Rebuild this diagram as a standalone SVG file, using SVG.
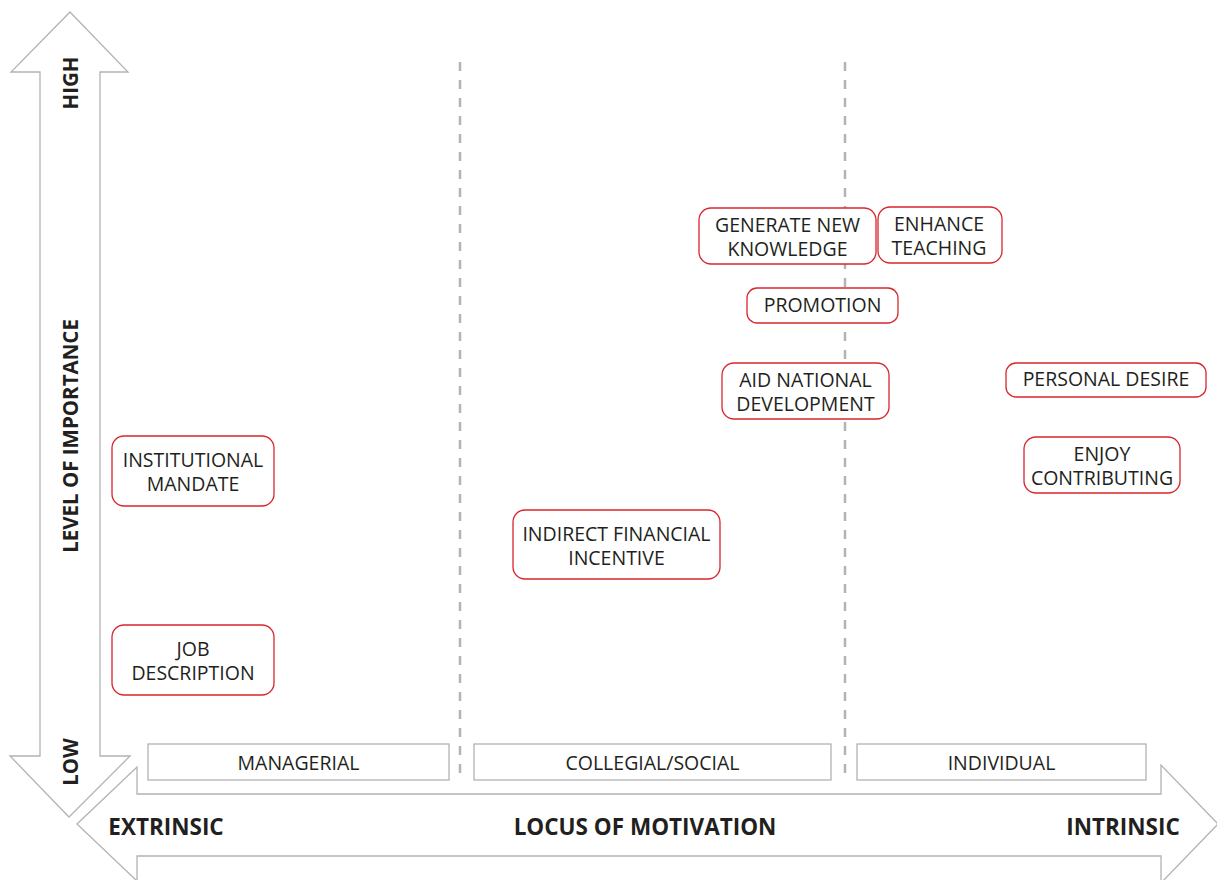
<svg xmlns="http://www.w3.org/2000/svg" width="1217" height="880" viewBox="0 0 1217 880">
<style>
.arrow{fill:#fff;stroke:#b3b3b3;stroke-width:1.3}
.dash{stroke:#b3b3b3;stroke-width:2.5;stroke-dasharray:9,9;fill:none}
.cat{fill:#fff;stroke:#b3b3b3;stroke-width:1.3}
.node{fill:#fff;stroke:#d7262d;stroke-width:1.3}
.t{font-family:"Open Sans","Noto Sans","Liberation Sans",sans-serif;font-size:19.5px;fill:#231f20;text-anchor:middle}
.b{font-family:"Open Sans","Noto Sans","Liberation Sans",sans-serif;font-size:22.5px;font-weight:bold;fill:#231f20;text-anchor:middle}
.v{font-family:"Open Sans","Noto Sans","Liberation Sans",sans-serif;font-size:20.5px;font-weight:bold;fill:#231f20;text-anchor:middle}
</style>
<rect width="1217" height="880" fill="#fff"/>
<g id="axes">
<path class="arrow" d="M70,12 L128,72 L100,72 L100,756 L130,756 L69,817 L10,756 L40,756 L40,72 L11,72 Z"/>
<path class="arrow" d="M77,824 L137,767 L137,794 L1161,794 L1161,765 L1218,824 L1161,883 L1161,856 L137,856 L137,881 Z"/>
<text class="v" transform="translate(78,83) rotate(-90)">HIGH</text>
<text class="v" transform="translate(78,436) rotate(-90)">LEVEL OF IMPORTANCE</text>
<text class="v" transform="translate(78,762) rotate(-90)">LOW</text>
<text class="b" x="166" y="835">EXTRINSIC</text>
<text class="b" x="645" y="835">LOCUS OF MOTIVATION</text>
<text class="b" x="1123" y="835">INTRINSIC</text>
</g>
<g id="dividers">
<line class="dash" x1="460" y1="62" x2="460" y2="782"/>
<line class="dash" x1="845" y1="62" x2="845" y2="782"/>
</g>
<g id="cat-managerial"><rect class="cat" x="148" y="744" width="301" height="36"/><text class="t" x="298.5" y="770">MANAGERIAL</text></g>
<g id="cat-collegial"><rect class="cat" x="474" y="744" width="357" height="36"/><text class="t" x="652.5" y="770">COLLEGIAL/SOCIAL</text></g>
<g id="cat-individual"><rect class="cat" x="857" y="744" width="289" height="36"/><text class="t" x="1001.5" y="770">INDIVIDUAL</text></g>
<g id="institutional-mandate"><rect class="node" x="112" y="436" width="162" height="70" rx="12"/><text class="t" x="193" y="467">INSTITUTIONAL</text><text class="t" x="193" y="491">MANDATE</text></g>
<g id="job-description"><rect class="node" x="112" y="625" width="162" height="70" rx="12"/><text class="t" x="193" y="656">JOB</text><text class="t" x="193" y="680">DESCRIPTION</text></g>
<g id="indirect-financial"><rect class="node" x="513" y="510" width="207" height="69" rx="12"/><text class="t" x="616.5" y="541">INDIRECT FINANCIAL</text><text class="t" x="616.5" y="565">INCENTIVE</text></g>
<g id="generate-knowledge"><rect class="node" x="699" y="208" width="177" height="56" rx="12"/><text class="t" x="787.5" y="232">GENERATE NEW</text><text class="t" x="787.5" y="256">KNOWLEDGE</text></g>
<g id="enhance-teaching"><rect class="node" x="878" y="207" width="124" height="56" rx="12"/><text class="t" x="939" y="231">ENHANCE</text><text class="t" x="939" y="255">TEACHING</text></g>
<g id="promotion"><rect class="node" x="747" y="288" width="151" height="35" rx="10"/><text class="t" x="822.5" y="312">PROMOTION</text></g>
<g id="aid-national"><rect class="node" x="722" y="363" width="167" height="56" rx="12"/><text class="t" x="805.5" y="387">AID NATIONAL</text><text class="t" x="805.5" y="411">DEVELOPMENT</text></g>
<g id="personal-desire"><rect class="node" x="1006" y="363" width="200" height="34" rx="10"/><text class="t" x="1106" y="386">PERSONAL DESIRE</text></g>
<g id="enjoy-contributing"><rect class="node" x="1024" y="437" width="156" height="56" rx="12"/><text class="t" x="1102" y="461">ENJOY</text><text class="t" x="1102" y="485">CONTRIBUTING</text></g>
</svg>
